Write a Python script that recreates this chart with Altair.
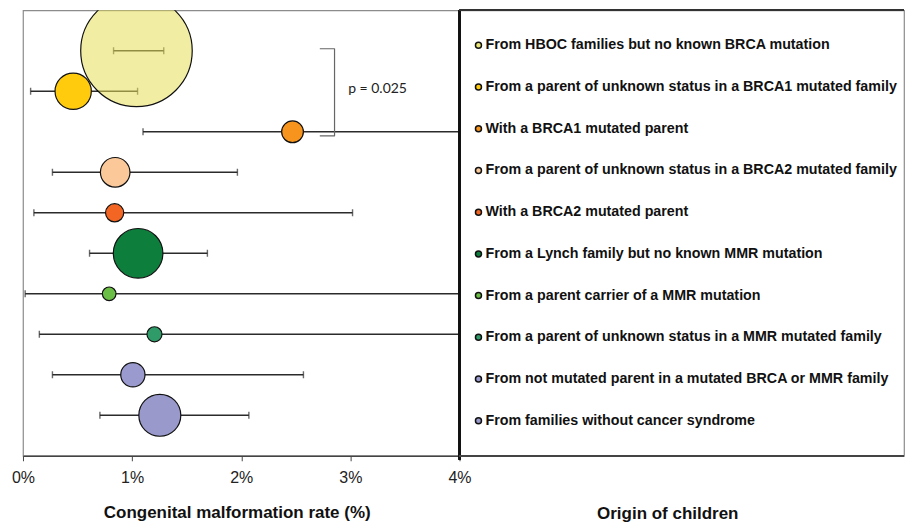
import math
import altair as alt
import pandas as pd

# Groups of children, listed from top to bottom
groups = [
    "From HBOC families but no known BRCA mutation",
    "From a parent of unknown status in a BRCA1 mutated family",
    "With a BRCA1 mutated parent",
    "From a parent of unknown status in a BRCA2 mutated family",
    "With a BRCA2 mutated parent",
    "From a Lynch family but no known MMR mutation",
    "From a parent carrier of a MMR mutation",
    "From a parent of unknown status in a MMR mutated family",
    "From not mutated parent in a mutated BRCA or MMR family",
    "From families without cancer syndrome",
]
# Malformation rate (%) with 95% confidence interval
rate = [1.04, 0.46, 2.47, 0.845, 0.84, 1.055, 0.79, 1.205, 1.007, 1.254]
ci_low = [0.83, 0.07, 1.10, 0.27, 0.10, 0.61, 0.02, 0.15, 0.27, 0.705]
ci_high = [1.29, 1.05, 5.0, 1.965, 3.02, 1.69, 6.5, 5.2, 2.57, 2.07]
# Relative size of each group (bubble area)
group_weight = [3969, 420, 151, 279, 106, 784, 59, 72, 188, 562]

# Bubble colours and fill opacity
fill_colors = ["#E6DF55", "#FFCB0C", "#F7941D", "#FBC89A", "#F26522",
               "#0E7E3D", "#6BBE45", "#2E9B68", "#9A9ACE", "#9999CC"]
fill_alpha = [0.55, 1, 1, 1, 1, 1, 1, 1, 1, 1]
legend_alpha = [0.8, 1, 1, 1, 1, 1, 1, 1, 1, 1]

# Significance bracket between BRCA1 rows
bracket_x = [2.72, 2.855, 2.855, 2.72]
bracket_y = [1.0 - 0.05, 1.0 - 0.05, 3.0 + 0.1, 3.0 + 0.1]
p_label = "p = 0.025"

rows = list(range(1, len(groups) + 1))
df = pd.DataFrame({
    "group": groups, "row": rows, "rate": rate,
    "lo": ci_low, "hi": ci_high, "weight": group_weight,
    "alpha": fill_alpha, "legend_alpha": legend_alpha,
})
caps = pd.DataFrame({
    "row": rows + rows,
    "x": ci_low + ci_high,
})
bracket = pd.DataFrame({"x": bracket_x, "y": bracket_y, "seq": [0, 1, 2, 3]})

W_LEFT, W_RIGHT, H = 437, 445, 446
max_r = 63

y_left = alt.Y("row:Q", scale=alt.Scale(domain=[0, 11], reverse=True, nice=False), axis=None)
fill_enc = alt.Fill("group:N", scale=alt.Scale(domain=groups, range=fill_colors), legend=None)

bars = alt.Chart(df).mark_rule(color="#2b2b2b", strokeWidth=1.4, clip=True).encode(
    x=alt.X("lo:Q",
            scale=alt.Scale(domain=[0, 4], nice=False, zero=True),
            axis=alt.Axis(values=[0, 1, 2, 3, 4], labelExpr="datum.value + '%'",
                          labelFlush=False,
                          title="Congenital malformation rate (%)", grid=False)),
    x2="hi:Q",
    y=y_left,
)

cap_marks = alt.Chart(caps).mark_tick(
    orient="vertical", color="#2b2b2b", thickness=1.4, size=7, clip=True
).encode(x="x:Q", y=alt.Y("row:Q"))

bubbles = alt.Chart(df).mark_circle(stroke="#111111", strokeWidth=1.2, opacity=1, clip=True).encode(
    x="rate:Q",
    y=alt.Y("row:Q"),
    size=alt.Size("weight:Q",
                  scale=alt.Scale(domain=[0, max(group_weight)], range=[0, math.pi * max_r ** 2]),
                  legend=None),
    fill=fill_enc,
    fillOpacity=alt.FillOpacity("alpha:Q", scale=None),
    order=alt.Order("row:Q"),
)

bracket_line = alt.Chart(bracket).mark_line(
    color="#666666", strokeWidth=1.2, strokeJoin="round"
).encode(x="x:Q", y="y:Q", order="seq:Q")

p_text = alt.Chart(pd.DataFrame({"t": [p_label], "x": [2.98], "y": [2.0 - 0.05]})).mark_text(
    align="left", baseline="middle", font="Lato", fontSize=14, color="#222222"
).encode(x="x:Q", y="y:Q", text="t:N")

left = alt.layer(bars, cap_marks, bubbles, bracket_line, p_text).properties(
    width=W_LEFT, height=H
)

# Legend panel
y_right = alt.Y("row:Q", scale=alt.Scale(domain=[0.16, 10.84], reverse=True, nice=False), axis=None)

legend_dots = alt.Chart(df).mark_circle(stroke="#111111", strokeWidth=1.5, opacity=1).encode(
    x=alt.value(19), y=y_right, fill=fill_enc,
    fillOpacity=alt.FillOpacity("legend_alpha:Q", scale=None), size=alt.value(36)
)
legend_text = alt.Chart(df).mark_text(
    align="left", baseline="middle", font="Liberation Sans", fontWeight="bold",
    fontSize=14.3, color="#111111"
).encode(x=alt.value(26), y=y_right, text="group:N")

left_border = alt.Chart(df).mark_rule(color="#111111", strokeWidth=1.6).encode(
    x=alt.value(0), y=alt.value(0), y2=alt.value(H + 4)
)
top_border = alt.Chart(df).mark_rule(color="#333333", strokeWidth=1.4).encode(
    x=alt.value(0), x2=alt.value(W_RIGHT), y=alt.value(0)
)
bottom_border = alt.Chart(df).mark_rule(color="#444444", strokeWidth=1.4).encode(
    x=alt.value(0), x2=alt.value(W_RIGHT), y=alt.value(H)
)

right = alt.layer(left_border, top_border, bottom_border, legend_dots, legend_text).properties(
    width=W_RIGHT, height=H,
    title=alt.TitleParams("Origin of children", orient="bottom", anchor="middle",
                          dx=-14, offset=45, font="Liberation Sans", fontSize=17,
                          fontWeight="bold", color="#111111"),
)

chart = alt.hconcat(left, right, spacing=0, bounds="flush").properties(
    padding={"left": 10, "top": 8, "right": 0, "bottom": 0},
    background="white",
).configure_view(
    stroke="#8c8c8c", strokeWidth=1.2
).configure_axisX(
    domainColor="#444444", domainWidth=1.4, tickColor="#444444", tickSize=5,
    labelFont="Liberation Sans", labelFontSize=16, labelColor="#222222", labelPadding=9,
    titleFont="Liberation Sans", titleFontSize=17, titleFontWeight="bold",
    titleColor="#111111", titlePadding=19, titleX=214,
)

chart.save("out.html", embed_options={"renderer": "svg", "actions": False})
